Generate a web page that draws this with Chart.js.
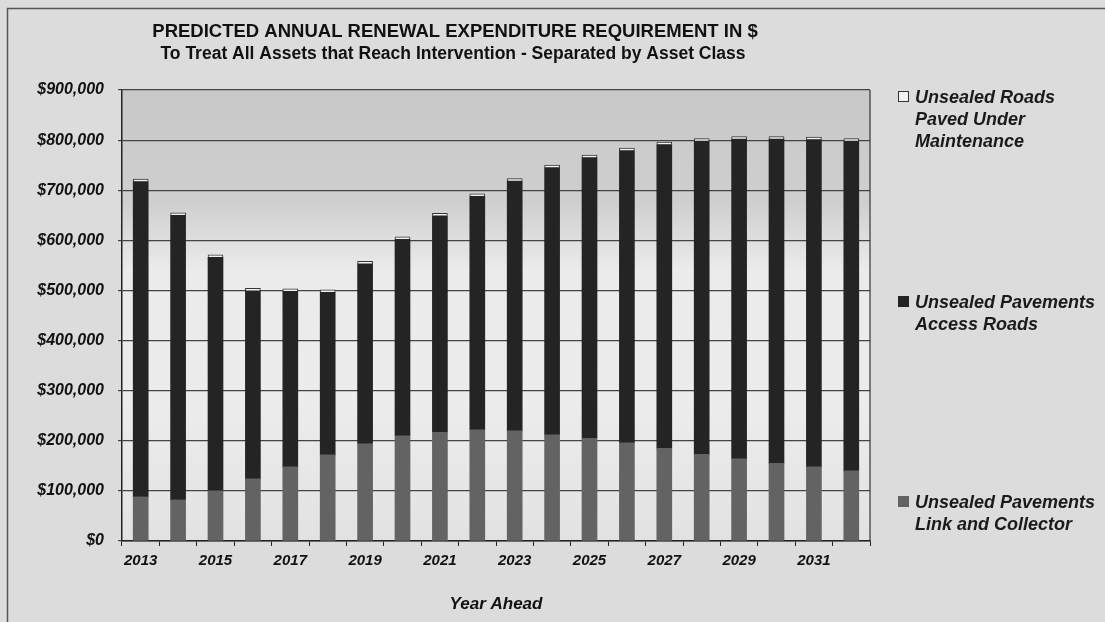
<!DOCTYPE html>
<html>
<head>
<meta charset="utf-8">
<script src="https://cdn.jsdelivr.net/npm/chart.js@4.4.1/dist/chart.umd.min.js"></script>
<style>
  body { margin: 0; background: #dcdcdc; }
  #wrap { position: relative; width: 1105px; height: 622px; overflow: hidden; }
  #legend { position: absolute; left: 898px; top: 0; font-family: 'Liberation Sans', Arial, sans-serif;
            font-weight: bold; font-style: italic; font-size: 18px; line-height: 22px; color: #1a1a1a; }
  .item { position: absolute; left: 0; white-space: nowrap; }
  .box { position: absolute; left: 0; top: 5px; width: 11px; height: 11px; box-sizing: border-box; }
  .txt { position: absolute; left: 17px; top: 0; }
</style>
</head>
<body>
<div id="wrap">
  <canvas id="myChart" width="1105" height="622"></canvas>
  <div id="legend"></div>
</div>
<script>
var years = ['2013','2014','2015','2016','2017','2018','2019','2020','2021','2022',
             '2023','2024','2025','2026','2027','2028','2029','2030','2031','2032'];

// Unsealed Pavements Link and Collector (bottom, mid grey)
var linkCollector = [88000, 82000, 100000, 124000, 148000, 172000, 194000, 210000, 217000, 222000,
                     220000, 212000, 205000, 196000, 185000, 173000, 164000, 155000, 148000, 140000];
// Unsealed Pavements Access Roads (dark)
var accessRoads = [629000, 568000, 466000, 375000, 350000, 324000, 359000, 392000, 432000, 466000,
                   498000, 533000, 560000, 583000, 606000, 625000, 638000, 647000, 653000, 658000];
// Unsealed Roads Paved Under Maintenance (thin white cap)
var pavedUnderMaint = [5000, 5000, 5000, 5000, 5000, 5000, 5000, 5000, 5000, 5000,
                       5000, 5000, 5000, 5000, 5000, 5000, 5000, 5000, 5000, 5000];

var titleLine1 = 'PREDICTED ANNUAL RENEWAL EXPENDITURE REQUIREMENT IN $';
var titleLine2 = 'To Treat All Assets that Reach Intervention - Separated by Asset Class';

var FONT = "'Liberation Sans', Arial, sans-serif";

// frame, plot background, title
var decor = {
    id: 'decor',
    beforeDraw: function(chart) {
        var ctx = chart.ctx, a = chart.chartArea;
        ctx.save();
        ctx.fillStyle = '#dcdcdc';
        ctx.fillRect(0, 0, chart.width, chart.height);
        var g = ctx.createLinearGradient(0, a.top, 0, a.bottom);
        g.addColorStop(0, '#c8c8c8');
        g.addColorStop(0.25, '#cfcfcf');
        g.addColorStop(0.4, '#ebebeb');
        g.addColorStop(0.7, '#ececec');
        g.addColorStop(1, '#e2e2e2');
        ctx.fillStyle = g;
        ctx.fillRect(a.left, a.top, a.right - a.left, a.bottom - a.top);
        // outer frame
        ctx.strokeStyle = '#555';
        ctx.lineWidth = 1.5;
        ctx.beginPath();
        ctx.moveTo(7.5, chart.height);
        ctx.lineTo(7.5, 8.5);
        ctx.lineTo(chart.width, 8.5);
        ctx.stroke();
        ctx.restore();
    },
    afterDraw: function(chart) {
        var ctx = chart.ctx, a = chart.chartArea;
        ctx.save();
        ctx.strokeStyle = '#333';
        ctx.lineWidth = 1.2;
        ctx.beginPath();
        ctx.moveTo(a.right, a.top);
        ctx.lineTo(a.right, a.bottom);
        ctx.stroke();
        ctx.fillStyle = '#111';
        ctx.textAlign = 'center';
        ctx.textBaseline = 'middle';
        ctx.font = 'bold 18.5px ' + FONT;
        ctx.fillText(titleLine1, 455, 32);
        ctx.font = 'bold 17.5px ' + FONT;
        ctx.fillText(titleLine2, 453, 54);
        ctx.restore();
    }
};

var myChart = document.getElementById('myChart').getContext('2d');
var chart = new Chart(myChart, {
    type: 'bar',
    data: {
        labels: years,
        datasets: [
            {
                label: 'Unsealed Pavements Link and Collector',
                legendLines: ['Unsealed Pavements', 'Link and Collector'],
                legendTop: 491,
                backgroundColor: '#636363',
                data: linkCollector
            },
            {
                label: 'Unsealed Pavements Access Roads',
                legendLines: ['Unsealed Pavements', 'Access Roads'],
                legendTop: 291,
                backgroundColor: '#242424',
                data: accessRoads
            },
            {
                label: 'Unsealed Roads Paved Under Maintenance',
                legendLines: ['Unsealed Roads', 'Paved Under', 'Maintenance'],
                legendTop: 86,
                backgroundColor: '#f2f2f2',
                borderColor: '#333',
                borderWidth: {top: 1, left: 1, right: 1, bottom: 0},
                borderSkipped: false,
                data: pavedUnderMaint
            }
        ]
    },
    options: {
        responsive: false,
        animation: false,
        layout: { padding: { top: 90, right: 235, left: 0, bottom: 0 } },
        datasets: { bar: { barThickness: 15 } },
        plugins: {
            legend: { display: false },
            title: { display: false },
            tooltip: { enabled: false }
        },
        scales: {
            x: {
                stacked: true,
                grid: { display: true, drawOnChartArea: false, offset: true, tickLength: 5, color: '#222' },
                border: { color: '#222', width: 1.5 },
                ticks: {
                    autoSkip: false, maxRotation: 0, padding: 6, color: '#111',
                    font: { family: FONT, size: 15, weight: 'bold', style: 'italic' },
                    callback: function(v, i) { return i % 2 === 0 ? years[i] : ''; }
                },
                title: {
                    display: true, text: 'Year Ahead', color: '#111',
                    font: { family: FONT, size: 17, weight: 'bold', style: 'italic' },
                    padding: { top: 4, bottom: 7 }
                },
                afterFit: function(s) { s.height = 81; }
            },
            y: {
                stacked: true,
                min: 0, max: 900000,
                grid: { color: '#444', lineWidth: 1.2, tickLength: 4 },
                border: { color: '#222', width: 1.5 },
                ticks: {
                    stepSize: 100000, padding: 14, color: '#111',
                    font: { family: FONT, size: 16, weight: 'bold', style: 'italic' },
                    callback: function(v) { return '$' + v.toLocaleString('en-US'); }
                },
                afterFit: function(s) { s.width = 122; }
            }
        }
    },
    plugins: [decor]
});

// html legend
var lg = document.getElementById('legend');
chart.data.datasets.forEach(function(ds) {
    var it = document.createElement('div');
    it.className = 'item';
    it.style.top = ds.legendTop + 'px';
    var b = document.createElement('div');
    b.className = 'box';
    b.style.background = ds.backgroundColor;
    b.style.border = '1px solid ' + (ds.borderColor || ds.backgroundColor);
    var t = document.createElement('div');
    t.className = 'txt';
    t.innerHTML = ds.legendLines.join('<br>');
    it.appendChild(b);
    it.appendChild(t);
    lg.appendChild(it);
});
</script>
</body>
</html>
